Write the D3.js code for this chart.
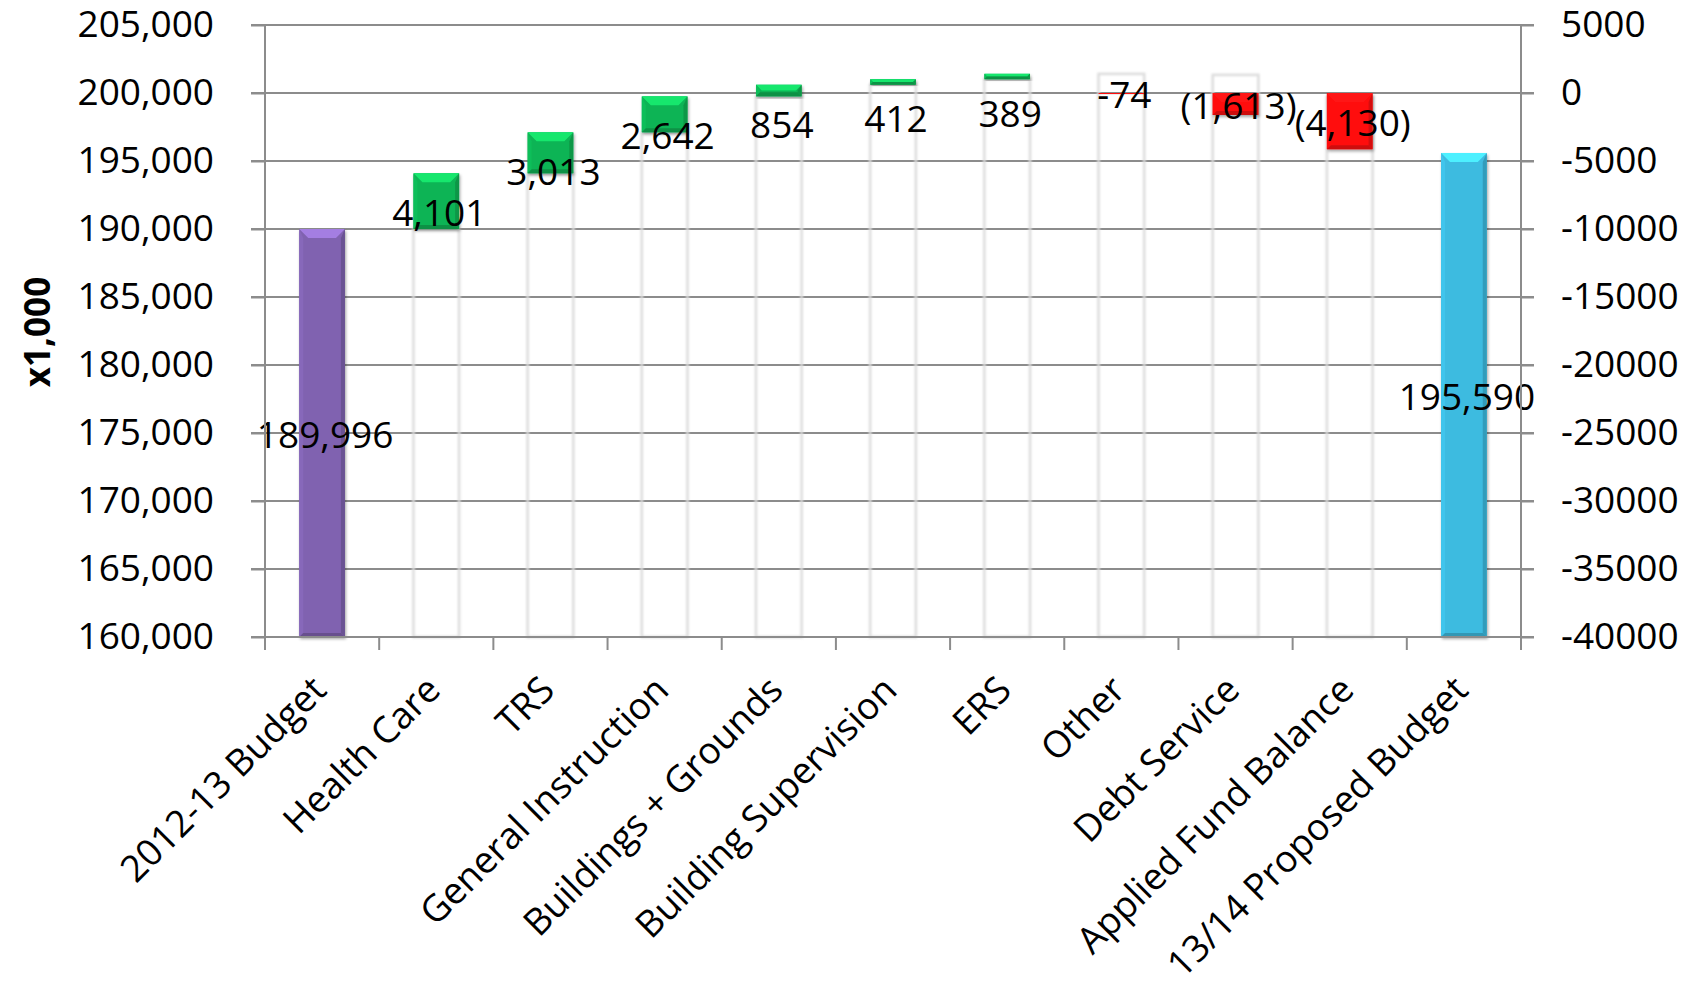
<!DOCTYPE html>
<html>
<head>
<meta charset="utf-8">
<script src="https://cdn.jsdelivr.net/npm/d3@7"></script>
<style>
    body { margin: 0; background: #fff; }
    text { font-family: "Open Sans", sans-serif; fill: #000; }
</style>
</head>
<body>
<div id="chart"></div>
<script>
// chart values
const categories = ["2012-13 Budget", "Health Care", "TRS", "General Instruction", "Buildings + Grounds",
    "Building Supervision", "ERS", "Other", "Debt Service", "Applied Fund Balance", "13/14 Proposed Budget"];
const startBudget = 189996;
const endBudget = 195590;
const changes = [4101, 3013, 2642, 854, 412, 389, -74, -1613, -4130];
const changeLabels = ["4,101", "3,013", "2,642", "854", "412", "389", "-74", "(1,613)", "(4,130)"];
const leftTicks = [160000, 165000, 170000, 175000, 180000, 185000, 190000, 195000, 200000, 205000];
const rightTicks = [-40000, -35000, -30000, -25000, -20000, -15000, -10000, -5000, 0, 5000];

const W = 1694, H = 983;
const margin = {top: 25, right: 173, bottom: 346, left: 265};
const width = W - margin.left - margin.right;
const height = H - margin.top - margin.bottom;

const svg = d3.select("#chart").append("svg")
    .attr("width", W)
    .attr("height", H);

const defs = svg.append("defs");
const shadow = defs.append("filter").attr("id", "shadow")
    .attr("x", "-20%").attr("y", "-20%").attr("width", "140%").attr("height", "140%");
shadow.append("feDropShadow")
    .attr("dx", 1).attr("dy", 2).attr("stdDeviation", 1.5)
    .attr("flood-color", "#000").attr("flood-opacity", 0.35);
const ghost = defs.append("filter").attr("id", "ghost")
    .attr("x", "-20%").attr("y", "-5%").attr("width", "140%").attr("height", "110%");
ghost.append("feGaussianBlur").attr("stdDeviation", 1.2);

const g = svg.append("g")
    .attr("transform", `translate(${margin.left}, ${margin.top})`);

const x = d3.scaleBand()
    .domain(categories)
    .range([0, width])
    .paddingInner(0.6)
    .paddingOuter(0.3);
const band = width / categories.length;

const y = d3.scaleLinear().domain([160000, 205000]).range([height, 0]);
const yR = d3.scaleLinear().domain([-40000, 5000]).range([height, 0]);

// gridlines
g.append("g").attr("class", "grid")
    .selectAll("line")
    .data(leftTicks)
    .join("line")
    .attr("x1", -14).attr("x2", width + 13)
    .attr("y1", d => y(d)).attr("y2", d => y(d))
    .attr("stroke", "#8c8c8c").attr("stroke-width", 2);

// build waterfall rows
let running = startBudget;
const rows = [];
rows.push({cat: categories[0], type: "total", v0: 160000, v1: startBudget, label: d3.format(",")(startBudget)});
changes.forEach((c, i) => {
    const before = running;
    running += c;
    if (c >= 0) {
        rows.push({cat: categories[i + 1], type: "up", base: before, v0: before, v1: running, label: changeLabels[i]});
    } else {
        rows.push({cat: categories[i + 1], type: "down", base: before, r0: 0, r1: c, label: changeLabels[i]});
    }
});
rows.push({cat: categories[categories.length - 1], type: "end", v0: 160000, v1: endBudget, label: d3.format(",")(endBudget)});

// faint base columns
g.append("g").selectAll("rect")
    .data(rows.filter(d => d.type === "up" || d.type === "down"))
    .join("rect")
    .attr("x", d => x(d.cat))
    .attr("width", x.bandwidth())
    .attr("y", d => y(d.base))
    .attr("height", d => height - y(d.base))
    .attr("fill", "none")
    .attr("stroke", "#dcdcdc")
    .attr("stroke-width", 2.5)
    .attr("filter", "url(#ghost)");

const colors = {total: "#8062b0", up: "#0fb455", down: "#ff1010", end: "#3dbbe0"};

function bevelBar(sel, x0, y0, w, h, color) {
    const base = d3.color(color);
    const b = Math.min(9, h / 2, w / 2);
    const bs = Math.min(4, h / 2, w / 2);
    const gg = sel.append("g").attr("filter", "url(#shadow)");
    gg.append("rect").attr("x", x0).attr("y", y0).attr("width", w).attr("height", Math.max(h, 0.8))
        .attr("fill", base.formatHex());
    if (h < 2) return;
    gg.append("polygon")
        .attr("points", [[x0, y0], [x0 + w, y0], [x0 + w - b, y0 + b], [x0 + b, y0 + b]].join(" "))
        .attr("fill", base.brighter(0.7).formatHex());
    gg.append("polygon")
        .attr("points", [[x0 + w, y0], [x0 + w - bs, y0 + b], [x0 + w - bs, y0 + h - bs], [x0 + w, y0 + h]].join(" "))
        .attr("fill", base.darker(0.5).formatHex());
    gg.append("polygon")
        .attr("points", [[x0, y0], [x0 + bs, y0 + b], [x0 + bs, y0 + h - bs], [x0, y0 + h]].join(" "))
        .attr("fill", base.brighter(0.15).formatHex());
    gg.append("polygon")
        .attr("points", [[x0, y0 + h], [x0 + bs, y0 + h - bs], [x0 + w - bs, y0 + h - bs], [x0 + w, y0 + h]].join(" "))
        .attr("fill", base.darker(0.6).formatHex());
}

const bars = g.append("g").attr("class", "bars");
rows.forEach(d => {
    let top, bottom;
    if (d.type === "down") {
        top = yR(d.r0);
        bottom = yR(d.r1);
    } else {
        top = y(d.v1);
        bottom = y(d.v0);
    }
    d.top = top;
    d.bottom = bottom;
    bevelBar(bars, x(d.cat), top, x.bandwidth(), bottom - top, colors[d.type]);
});

// data labels
g.append("g").selectAll("text")
    .data(rows)
    .join("text")
    .attr("x", d => x(d.cat) + x.bandwidth() / 2 + 3)
    .attr("y", d => d.type === "up" ? d.top + 40 : (d.top + d.bottom) / 2 + 2)
    .attr("dy", "0.35em")
    .attr("text-anchor", "middle")
    .style("font-size", "37px")
    .text(d => d.label);

// left axis
const yAxis = d3.axisLeft(y).tickValues(leftTicks).tickFormat(d3.format(",")).tickSize(14).tickPadding(37);
const ya = g.append("g").call(yAxis);
ya.select(".domain").remove();
ya.selectAll("line").attr("stroke", "#8c8c8c").attr("stroke-width", 2);
ya.selectAll("text").style("font-size", "37px").attr("font-family", null);
g.append("line").attr("x1", 0).attr("x2", 0).attr("y1", 0).attr("y2", height)
    .attr("stroke", "#8c8c8c").attr("stroke-width", 2);

// right axis
const yAxisR = d3.axisRight(yR).tickValues(rightTicks).tickFormat(d => String(d)).tickSize(13).tickPadding(27);
const yr = g.append("g").attr("transform", `translate(${width}, 0)`).call(yAxisR);
yr.select(".domain").remove();
yr.selectAll("line").attr("stroke", "#8c8c8c").attr("stroke-width", 2);
yr.selectAll("text").style("font-size", "37px").attr("font-family", null);
g.append("line").attr("x1", width).attr("x2", width).attr("y1", 0).attr("y2", height)
    .attr("stroke", "#8c8c8c").attr("stroke-width", 2);

// bottom axis
const xa = g.append("g").attr("transform", `translate(0, ${height})`);
xa.append("line").attr("x1", -14).attr("x2", width + 13)
    .attr("stroke", "#8c8c8c").attr("stroke-width", 2);
xa.selectAll(".tick")
    .data(d3.range(categories.length + 1))
    .join("line")
    .attr("x1", i => i * band).attr("x2", i => i * band)
    .attr("y1", 0).attr("y2", 13)
    .attr("stroke", "#8c8c8c").attr("stroke-width", 2);
xa.selectAll(".xlabel")
    .data(categories)
    .join("text")
    .attr("class", "xlabel")
    .attr("transform", d => `translate(${x(d) + x.bandwidth() / 2 - 3}, 46) rotate(-45)`)
    .attr("dy", "0.35em")
    .attr("text-anchor", "end")
    .style("font-size", "37px")
    .text(d => d);

// axis title
svg.append("text")
    .attr("transform", "translate(38, 332) rotate(-90)")
    .attr("dy", "0.35em")
    .attr("text-anchor", "middle")
    .style("font-size", "35px")
    .style("font-weight", "bold")
    .text("x1,000");
</script>
</body>
</html>
